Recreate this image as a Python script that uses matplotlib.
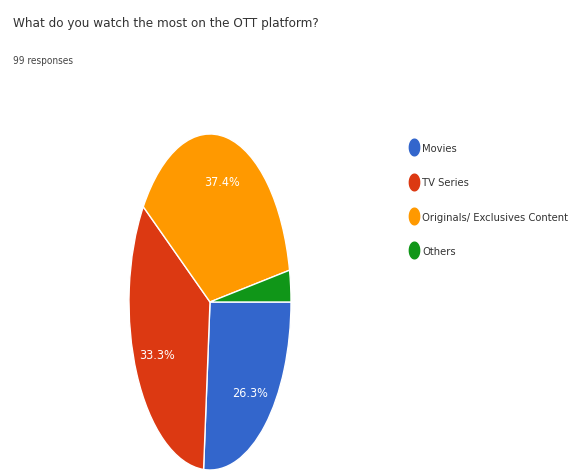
import matplotlib.pyplot as plt
from matplotlib.lines import Line2D
from matplotlib.path import Path
import numpy as np

# DATA
labels = ["Movies", "TV Series", "Originals/ Exclusives Content", "Others"]
counts = [26, 33, 37, 3]
colors = ["#3366cc", "#dc3912", "#ff9900", "#109618"]
title = "What do you watch the most on the OTT platform?"
subtitle = "99 responses"

plt.rcParams['font.family'] = ['DejaVu Sans']
plt.rcParams['font.stretch'] = 'condensed'

fig = plt.figure(figsize=(5.68, 4.77), dpi=100)
fig.patch.set_facecolor('white')

# PIE IS STRETCHED TALL IN THE REFERENCE
ax = fig.add_axes([129/568, 6/477, 162/568, 336/477])


def pct_label(p):
    if p < 5:
        return ''
    return f'{p:.1f}%'


wedges, texts, autotexts = ax.pie(
    counts, colors=colors, startangle=0, counterclock=False,
    autopct=pct_label, pctdistance=0.73,
    wedgeprops=dict(edgecolor='white', linewidth=1),
    textprops=dict(color='white', fontsize=9))
ax.set_aspect('auto')
ax.set_xlim(-1, 1)
ax.set_ylim(-1, 1)
ax.axis('off')

fig.text(13/568, 1 - 17/477, title, fontsize=9.6, color='#333333', va='top', ha='left')
fig.text(13/568, 1 - 56/477, subtitle, fontsize=7.2, color='#444444', va='top', ha='left')

# LEGEND WITH TALL OVAL MARKERS
t = np.linspace(0, 2*np.pi, 40)
oval = Path(np.column_stack([0.62*np.cos(t), np.sin(t)]))
handles = [Line2D([], [], marker=oval, linestyle='none', markersize=12,
                  markerfacecolor=c, markeredgecolor=c) for c in colors]
leg = fig.legend(handles, labels, loc='upper left',
                 bbox_to_anchor=(410/568, 1 - 144/477), frameon=False,
                 fontsize=8, labelspacing=2.2, handlelength=0.8,
                 handletextpad=0.3, borderaxespad=0, borderpad=0)
for txt in leg.get_texts():
    txt.set_color('#333333')

fig.savefig('out.png', dpi=100, facecolor='white')
